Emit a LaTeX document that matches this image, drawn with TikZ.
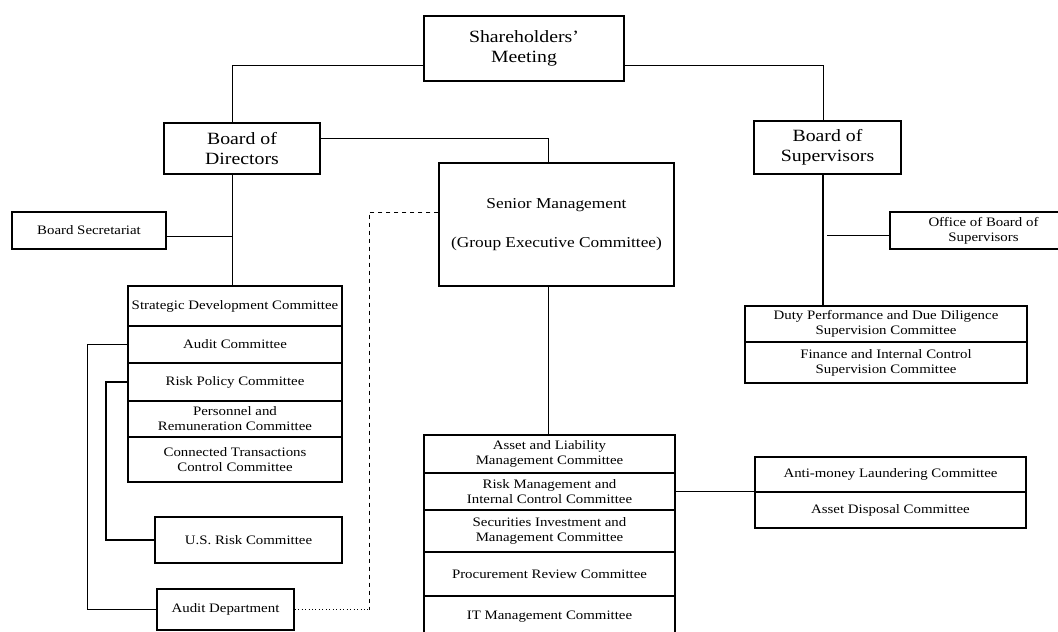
\documentclass[tikz,border=0pt]{standalone}
\usepackage{fontspec}
\setmainfont{Liberation Serif}[FakeStretch=1.15]
\usetikzlibrary{calc}

\begin{document}
\begin{tikzpicture}[x=0.75pt, y=-0.75pt,
    cell/.style 2 args={draw, line width=1pt, align=center, inner sep=0pt,
        minimum width=#1*0.75pt, minimum height=#2*0.75pt,
        font=\fontsize{9.7}{11.3}\selectfont},
    big/.style={font=\fontsize{12.9}{15.4}\selectfont},
    mid/.style={font=\fontsize{11.3}{13.5}\selectfont},
    link/.style={line width=0.6pt}]
    \useasboundingbox[fill=white] (0,0) rectangle (1058,632);

    % top level
    \node[cell={200}{65}, big] (share) at (524,48.5) {Shareholders'\\Meeting};
    \node[cell={156}{51}, big] (bod) at (242,148.5) {Board of\\Directors};
    \node[cell={147}{53}, big] (bos) at (827.5,147.5) {Board of\\Supervisors};
    \node[cell={235}{123}, mid] (senior) at (556.5,224.5) {Senior Management\\[16pt](Group Executive Committee)};
    \node[cell={154}{37}] (bsec) at (89,230.5) {Board Secretariat};
    \node[cell={187}{37}] (obos) at (983.5,230.5) {Office of Board of\\Supervisors};

    % board committees
    \node[cell={214}{40}] (strat) at (235,306) {Strategic Development Committee};
    \node[cell={214}{37}] (audit) at (235,344.5) {Audit Committee};
    \node[cell={214}{38}] (riskpol) at (235,382) {Risk Policy Committee};
    \node[cell={214}{36}] (person) at (235,419) {Personnel and\\Remuneration Committee};
    \node[cell={214}{45}] (conn) at (235,459.5) {Connected Transactions\\Control Committee};
    \node[cell={187}{46}] (usrisk) at (248.5,540) {U.S. Risk Committee};
    \node[cell={137}{41}] (auddep) at (225.5,609.5) {Audit Department};

    % supervisors committees
    \node[cell={282}{36}] (duty) at (886,324) {Duty Performance and Due Diligence\\Supervision Committee};
    \node[cell={282}{41}] (fin) at (886,362.5) {Finance and Internal Control\\Supervision Committee};

    % management committees
    \node[cell={251}{38}] (alm) at (549.5,454) {Asset and Liability\\Management Committee};
    \node[cell={251}{37}] (rmic) at (549.5,491.5) {Risk Management and\\Internal Control Committee};
    \node[cell={251}{42}] (sec) at (549.5,531) {Securities Investment and\\Management Committee};
    \node[cell={251}{44}] (proc) at (549.5,574) {Procurement Review Committee};
    \node[cell={251}{42}] (itm) at (549.5,617) {IT Management Committee};
    \node[cell={271}{35}] (aml) at (890.5,474.5) {Anti-money Laundering Committee};
    \node[cell={271}{36}] (adc) at (890.5,510) {Asset Disposal Committee};

    % trunk positions
    \coordinate (lvl1) at (0,65);
    \coordinate (lvl2) at (0,138);
    \coordinate (bodx) at (232,0);
    \coordinate (bosx) at (823,0);
    \coordinate (smx) at (548,0);
    \coordinate (audx) at (87,0);
    \coordinate (rpx) at (106,0);
    \coordinate (dashx) at (369,0);
    \coordinate (dashy) at (0,212);
    \coordinate (bsecj) at (232,236);
    \coordinate (obosj) at (827,235);

    % connectors
    \draw[link] (share.west |- lvl1) -| (bod.north -| bodx);
    \draw[link] (share.east |- lvl1) -| (bos.north -| bosx);
    \draw[link] (bod.east |- lvl2) -| (senior.north -| smx);
    \draw[link] (bod.south -| bodx) -- (strat.north -| bodx);
    \draw[link] (bsec.east |- bsecj) -- (bsecj);
    \draw[line width=1pt] (bos.south -| bosx) -- (duty.north -| bosx);
    \draw[link] (obos.west |- obosj) -- (obosj);
    \draw[link] (senior.south -| smx) -- (alm.north -| smx);
    \draw[link] (rmic.east) -- (rmic.east -| aml.west);
    \draw[link] (audit.west) -| (audx |- auddep.west) -- (auddep.west);
    \draw[line width=1pt] (riskpol.west) -| (rpx |- usrisk.west) -- (usrisk.west);
    \draw[link, dashed] (senior.west |- dashy) -| (dashx |- auddep.east);
    \draw[link, dotted] (auddep.east) -- (dashx |- auddep.east);
\end{tikzpicture}
\end{document}
